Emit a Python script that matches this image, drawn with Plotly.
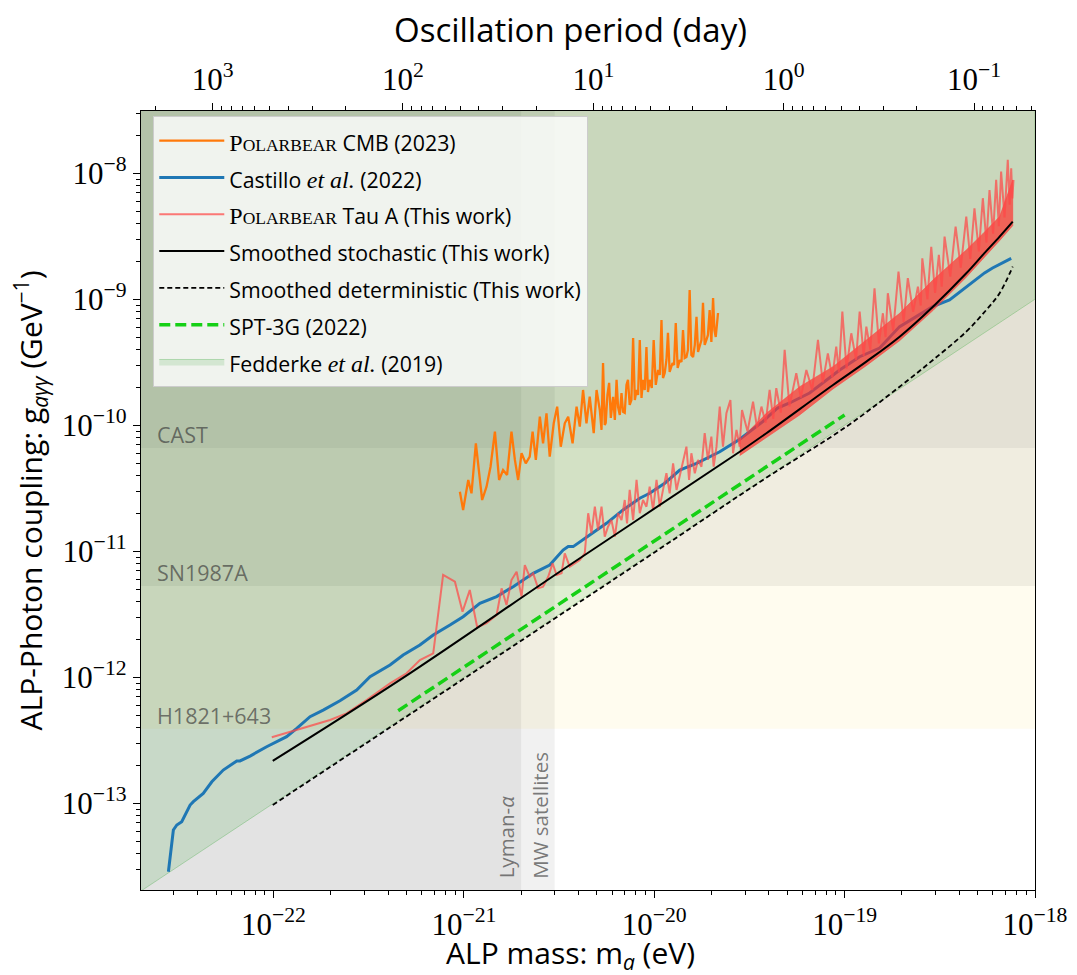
import numpy as np
import plotly.graph_objects as go

# ------------------------------------------------------------------
# Data (log10 values)
#   m in eV, g in GeV^-1
# ------------------------------------------------------------------
# Castillo et al. (2022)
castillo_log_m = [-22.552, -22.526, -22.508, -22.482, -22.438, -22.421, -22.369, -22.324, -22.264, -22.193,
                  -22.176, -22.123, -22.036, -22.001, -21.931, -21.878, -21.808, -21.739, -21.651, -21.563,
                  -21.493, -21.388, -21.319, -21.231, -21.161, -21.073, -21.004, -20.916, -20.828, -20.741,
                  -20.636, -20.549, -20.479, -20.452, -20.426, -20.339, -20.251, -20.164, -20.076, -20.024,
                  -19.945, -19.866, -19.778, -19.656, -19.551, -19.430, -19.352, -19.289, -19.184, -19.026,
                  -18.921, -18.816, -18.711, -18.624, -18.538, -18.449, -18.361, -18.265, -18.223, -18.125]
castillo_log_g = [-13.543, -13.212, -13.172, -13.146, -13.014, -12.987, -12.921, -12.829, -12.736, -12.664,
                  -12.664, -12.625, -12.551, -12.524, -12.471, -12.405, -12.313, -12.260, -12.186, -12.101,
                  -11.995, -11.902, -11.823, -11.744, -11.664, -11.585, -11.519, -11.413, -11.360, -11.281,
                  -11.175, -11.109, -10.990, -10.963, -10.963, -10.871, -10.778, -10.672, -10.579, -10.540,
                  -10.460, -10.355, -10.302, -10.210, -10.111, -9.971, -9.863, -9.823, -9.744, -9.561,
                  -9.456, -9.387, -9.217, -9.138, -9.059, -9.006, -8.900, -8.791, -8.752, -8.675]

# POLARBEAR CMB (2023)
pb_cmb_log_m = [-21.021, -21.004, -20.977, -20.960, -20.937, -20.916, -20.904, -20.881, -20.860, -20.837,
                -20.815, -20.794, -20.773, -20.750, -20.732, -20.715, -20.697, -20.675, -20.654, -20.639,
                -20.622, -20.601, -20.584, -20.566, -20.549, -20.528, -20.510, -20.491, -20.470, -20.452,
                -20.429, -20.408, -20.391, -20.374, -20.356, -20.339, -20.318, -20.303,
                -20.286, -20.277, -20.269, -20.260, -20.255, -20.246, -20.237, -20.228, -20.216, -20.207,
                -20.198, -20.190, -20.181, -20.172, -20.164, -20.155, -20.146, -20.138, -20.129, -20.120,
                -20.111, -20.102, -20.093, -20.085, -20.076, -20.067, -20.059, -20.050, -20.041, -20.033,
                -20.024, -20.013, -20.003, -19.992, -19.980, -19.971, -19.962, -19.954, -19.945, -19.936,
                -19.928, -19.919, -19.904, -19.896, -19.887, -19.877, -19.866, -19.857, -19.849, -19.840,
                -19.831, -19.823, -19.814, -19.805, -19.796, -19.787, -19.778, -19.770, -19.761, -19.752,
                -19.744, -19.735, -19.726, -19.718, -19.709, -19.700, -19.691, -19.684, -19.677, -19.670,
                -19.665]
pb_cmb_log_g = [-10.527, -10.672, -10.434, -10.540, -10.143, -10.460, -10.593, -10.487, -10.329, -10.051,
                -10.434, -10.355, -10.394, -10.051, -10.275, -10.434, -10.222, -10.302, -10.249, -10.051,
                -10.275, -9.932, -10.143, -9.905, -10.249, -9.984, -9.852, -10.170, -9.984, -9.932,
                -10.143, -9.852, -10.011, -9.720, -9.984, -9.773, -10.063, -9.720,
                -9.879, -10.037, -9.506, -9.998, -9.982, -9.760, -9.664, -9.942, -9.775, -9.958,
                -9.640, -9.855, -9.918, -9.744, -9.894, -9.902, -9.680, -9.640, -9.839, -9.799,
                -9.307, -9.799, -9.720, -9.759, -9.323, -9.783, -9.640, -9.720, -9.379, -9.736,
                -9.640, -9.704, -9.323, -9.680, -9.561, -9.601, -9.164, -9.625, -9.585, -9.482,
                -9.267, -9.577, -9.506, -9.522, -9.188, -9.545, -9.482, -9.498, -9.244, -9.466,
                -9.458, -9.402, -8.926, -9.442, -9.458, -9.363, -9.140, -9.418, -9.379, -9.323,
                -9.029, -9.363, -9.323, -9.283, -9.085, -9.339, -8.990, -9.244, -9.299, -9.148,
                -9.109]

# POLARBEAR Tau A (this work): sparse low-mass part
taua_log_m = [-22.009, -21.913, -21.791, -21.703, -21.616, -21.511, -21.388, -21.301, -21.231, -21.161,
              -21.109, -21.047, -21.007, -20.969, -20.930, -20.881, -20.828, -20.802, -20.776, -20.750,
              -20.723, -20.697, -20.680, -20.654, -20.636, -20.610, -20.584, -20.557, -20.534, -20.513,
              -20.487, -20.470, -20.444, -20.417, -20.391, -20.365, -20.347, -20.330, -20.312, -20.295,
              -20.277, -20.260, -20.243, -20.225, -20.207, -20.190, -20.172, -20.155, -20.143, -20.129,
              -20.111, -20.093, -20.076, -20.059, -20.041, -20.024, -20.006, -19.988, -19.971, -19.954,
              -19.936, -19.919, -19.901, -19.883, -19.866, -19.849, -19.831, -19.817, -19.805, -19.787,
              -19.770, -19.752, -19.735, -19.718, -19.700, -19.688, -19.673, -19.656, -19.639, -19.621,
              -19.600, -19.586, -19.568, -19.551]
taua_log_g = [-12.476, -12.432, -12.379, -12.339, -12.286, -12.180, -12.048, -11.968, -11.863, -11.810,
              -11.188, -11.241, -11.479, -11.307, -11.603, -11.571, -11.506, -11.294, -11.426, -11.228,
              -11.162, -11.360, -11.109, -11.202, -11.175, -11.294, -11.281, -11.202, -11.095, -11.188,
              -11.175, -11.016, -11.122, -11.095, -11.069, -11.016, -10.698, -10.857, -10.646, -10.831,
              -10.646, -10.884, -10.805, -10.752, -10.884, -10.698, -10.752, -10.593, -10.778, -10.513,
              -10.752, -10.434, -10.698, -10.593, -10.646, -10.487, -10.672, -10.434, -10.646, -10.513,
              -10.381, -10.540, -10.302, -10.513, -10.408, -10.302, -10.170, -10.434, -10.222, -10.381,
              -10.275, -10.329, -10.063, -10.275, -10.090, -10.329, -10.170, -9.852, -10.170, -9.905,
              -9.799, -10.222, -10.037, -10.170]

# POLARBEAR Tau A: dense high-mass part (band edges and spikes)
taua_band_log_m = [-19.551, -19.411, -19.236, -19.061, -18.886, -18.711, -18.536, -18.361, -18.274, -18.186, -18.117]
taua_band_upper_log_g = [-10.117, -9.905, -9.694, -9.535, -9.323, -9.111, -8.847, -8.609, -8.480, -8.344, -8.053]
taua_band_lower_log_g = [-10.241, -10.095, -9.918, -9.712, -9.527, -9.329, -9.090, -8.825, -8.680, -8.535, -8.416]

taua_spike_log_m = [-19.551, -19.539, -19.510, -19.481, -19.460, -19.437, -19.415, -19.394, -19.375, -19.359,
                    -19.335, -19.315, -19.290, -19.254, -19.230, -19.201, -19.170, -19.140, -19.115, -19.088,
                    -19.065, -19.044, -19.030, -19.012, -18.990, -18.965, -18.940, -18.921, -18.900, -18.886,
                    -18.865, -18.843, -18.820, -18.799, -18.785, -18.773, -18.745, -18.717, -18.690, -18.668,
                    -18.640, -18.615, -18.600, -18.592, -18.565, -18.545, -18.525, -18.505, -18.490, -18.475,
                    -18.445, -18.417, -18.390, -18.361, -18.340, -18.318, -18.295, -18.274, -18.255, -18.239,
                    -18.220, -18.204, -18.190, -18.178, -18.160, -18.143, -18.133, -18.125, -18.119, -18.113]
taua_spike_log_g = [-10.150, -9.879, -10.050, -9.813, -10.020, -9.852, -9.980, -9.720, -9.950, -9.706,
                    -9.900, -9.402, -9.850, -9.587, -9.780, -9.561, -9.720, -9.323, -9.660, -9.429,
                    -9.620, -9.376, -9.580, -9.098, -9.550, -9.270, -9.480, -9.098, -9.450, -9.217,
                    -9.400, -8.913, -9.350, -9.111, -9.300, -8.952, -9.250, -8.781, -9.180, -8.833,
                    -9.100, -8.900, -9.050, -8.675, -9.000, -8.583, -8.950, -8.648, -8.900, -8.503,
                    -8.820, -8.424, -8.750, -8.344, -8.680, -8.278, -8.620, -8.198, -8.550, -8.133,
                    -8.480, -8.053, -8.420, -7.987, -8.350, -7.894, -8.250, -7.960, -8.200, -8.053]

# Smoothed stochastic / deterministic (this work)
stoch_log_m = [-22.004, -21.336, -20.444, -19.551, -19.411, -19.061, -18.886, -18.711, -18.536, -18.361, -18.274, -18.186, -18.117]
stoch_log_g = [-12.664, -12.021, -11.109, -10.210, -10.063, -9.680, -9.495, -9.297, -9.059, -8.794, -8.648, -8.503, -8.384]
det_log_m = [-22.004, -20.059, -19.429, -18.991, -18.711, -18.536, -18.361, -18.256, -18.186, -18.117]
det_log_g = [-13.013, -11.069, -10.434, -10.011, -9.694, -9.482, -9.257, -9.085, -8.952, -8.741]

# SPT-3G (2022)
spt_log_m = [-21.345, -19.000]
spt_log_g = [-12.265, -9.918]

# Fedderke et al. (2019) lower boundary of excluded region
fedderke_log_m = [-22.8, -18.0]
fedderke_log_g = [-13.8, -9.0]

# Other bounds
cast_g = 6.6e-11
sn1987a_g = 5.3e-12
h1821_g = 3.9e-13
lyman_alpha_m = 2.0e-21
mw_satellites_m = 3.0e-21

# Tick labels
x_tick_vals = [1e-22, 1e-21, 1e-20, 1e-19, 1e-18]
x_tick_text = ["10<sup>\u221222</sup>", "10<sup>\u221221</sup>", "10<sup>\u221220</sup>",
               "10<sup>\u221219</sup>", "10<sup>\u221218</sup>"]
y_tick_vals = [1e-13, 1e-12, 1e-11, 1e-10, 1e-9, 1e-8]
y_tick_text = ["10<sup>\u221213</sup>", "10<sup>\u221212</sup>", "10<sup>\u221211</sup>",
               "10<sup>\u221210</sup>", "10<sup>\u22129</sup>", "10<sup>\u22128</sup>"]
top_tick_vals = [1e3, 1e2, 1e1, 1e0, 1e-1]
top_tick_text = ["10<sup>3</sup>", "10<sup>2</sup>", "10<sup>1</sup>", "10<sup>0</sup>", "10<sup>\u22121</sup>"]

# ------------------------------------------------------------------
H_EV_S = 4.135667696e-15
SEC_PER_DAY = 86400.0
LOG_T0 = np.log10(H_EV_S / SEC_PER_DAY)  # log10(period[day]) = LOG_T0 - log10(m)

X_RANGE = [-22.696, -18.0]
Y_RANGE = [-13.688, -7.506]
TOP_RANGE = [LOG_T0 - X_RANGE[0], LOG_T0 - X_RANGE[1]]


def lin(v):
    return [10.0 ** a for a in v]


def minor_vals(e0, e1):
    return [k * 10.0 ** e for e in range(e0, e1) for k in range(2, 10)]


SANS = "Open Sans"
SERIF = "Liberation Serif"
LEG_FS = 21.3


def leg(txt):
    return '<span style="font-size:%spx">%s</span>' % (LEG_FS, txt)


def smallcaps_pb():
    return ('<span style="font-family:%s;font-size:24px">P</span>'
            '<span style="font-family:%s;font-size:17.5px">OLARBEAR</span>' % (SERIF, SERIF))


def etal():
    return '<span style="font-family:%s;font-size:24px"><i>et al.</i></span>' % SERIF


TAU_RED = "rgba(255,70,70,0.72)"

xlo, xhi = 10 ** X_RANGE[0], 10 ** X_RANGE[1]
ylo, yhi = 10 ** Y_RANGE[0], 10 ** Y_RANGE[1]


def band(x0, x1, y0, y1, color):
    return go.Scatter(x=[x0, x1, x1, x0, x0], y=[y0, y0, y1, y1, y0], mode="lines", fill="toself",
                      fillcolor=color, line=dict(width=0), showlegend=False, hoverinfo="skip")


fig = go.Figure()

# Excluded bands (drawn first, underneath everything)
fig.add_trace(band(xlo, xhi, h1821_g, yhi, "rgba(255,228,110,0.11)"))
fig.add_trace(band(xlo, xhi, sn1987a_g, yhi, "rgba(0,0,0,0.058)"))
fig.add_trace(band(xlo, xhi, cast_g, yhi, "rgba(0,0,0,0.046)"))
fig.add_trace(band(xlo, lyman_alpha_m, ylo, yhi, "rgba(0,0,0,0.055)"))
fig.add_trace(band(xlo, mw_satellites_m, ylo, yhi, "rgba(0,0,0,0.055)"))

# Fedderke excluded region
fig.add_trace(go.Scatter(
    x=lin([fedderke_log_m[0], fedderke_log_m[1], fedderke_log_m[1], fedderke_log_m[0], fedderke_log_m[0]]),
    y=lin([fedderke_log_g[0], fedderke_log_g[1], Y_RANGE[1] + 1, Y_RANGE[1] + 1, fedderke_log_g[0]]),
    mode="lines", fill="toself", fillcolor="rgba(44,160,44,0.15)",
    line=dict(color="rgba(44,160,44,0.28)", width=1),
    name=leg("Fedderke " + etal() + " (2019)"), legendrank=7, hoverinfo="skip"))

# Castillo
fig.add_trace(go.Scatter(x=lin(castillo_log_m), y=lin(castillo_log_g), mode="lines",
                         line=dict(color="#1f77b4", width=3),
                         name=leg("Castillo " + etal() + " (2022)"), legendrank=2))

# Tau A dense band
fig.add_trace(go.Scatter(
    x=lin(taua_band_log_m + taua_band_log_m[::-1]),
    y=lin(taua_band_upper_log_g + taua_band_lower_log_g[::-1]),
    mode="lines", fill="toself", fillcolor="rgba(255,50,45,0.7)",
    line=dict(color="rgba(255,60,55,0.5)", width=1), showlegend=False, legendgroup="taua",
    hoverinfo="skip"))
fig.add_trace(go.Scatter(x=lin(taua_spike_log_m), y=lin(taua_spike_log_g), mode="lines",
                         line=dict(color=TAU_RED, width=2), showlegend=False, legendgroup="taua"))
fig.add_trace(go.Scatter(x=lin(taua_log_m), y=lin(taua_log_g), mode="lines",
                         line=dict(color=TAU_RED, width=2), legendgroup="taua",
                         name=leg(smallcaps_pb() + " Tau A (This work)"), legendrank=3))

# POLARBEAR CMB
fig.add_trace(go.Scatter(x=lin(pb_cmb_log_m), y=lin(pb_cmb_log_g), mode="lines",
                         line=dict(color="#ff790a", width=2.3),
                         name=leg(smallcaps_pb() + " CMB (2023)"), legendrank=1))

# SPT-3G
fig.add_trace(go.Scatter(x=lin(spt_log_m), y=lin(spt_log_g), mode="lines",
                         line=dict(color="#15d015", width=3.5, dash="11px,5px"),
                         name=leg("SPT-3G (2022)"), legendrank=6))

# Smoothed curves
fig.add_trace(go.Scatter(x=lin(stoch_log_m), y=lin(stoch_log_g), mode="lines",
                         line=dict(color="black", width=2, shape="spline"),
                         name=leg("Smoothed stochastic (This work)"), legendrank=4))
fig.add_trace(go.Scatter(x=lin(det_log_m), y=lin(det_log_g), mode="lines",
                         line=dict(color="black", width=1.8, dash="5px,3px", shape="spline"),
                         name=leg("Smoothed deterministic (This work)"), legendrank=5))

# invisible helper so the top (period) axis is drawn
fig.add_trace(go.Scatter(x=[10 ** TOP_RANGE[0], 10 ** TOP_RANGE[1]], y=[ylo, ylo],
                         xaxis="x2", mode="lines", line=dict(width=0), opacity=0,
                         showlegend=False, hoverinfo="skip"))

ann_font = dict(family=SANS, size=21.5, color="rgba(60,60,60,0.68)")
vert_font = dict(family=SANS, size=20.5, color="rgba(60,60,60,0.68)")
annotations = [
    dict(text="CAST", x=0.016, xref="paper", y=np.log10(cast_g), yref="y", xanchor="left", yanchor="bottom",
         showarrow=False, font=ann_font, yshift=-3),
    dict(text="SN1987A", x=0.016, xref="paper", y=np.log10(sn1987a_g), yref="y", xanchor="left", yanchor="bottom",
         showarrow=False, font=ann_font, yshift=-3),
    dict(text="H1821+643", x=0.016, xref="paper", y=np.log10(h1821_g), yref="y", xanchor="left", yanchor="bottom",
         showarrow=False, font=ann_font, yshift=-3),
    dict(text="Lyman-<i>\u03b1</i>", x=np.log10(lyman_alpha_m), xref="x", y=0.012, yref="paper",
         xanchor="right", yanchor="bottom", textangle=-90, showarrow=False, font=vert_font, xshift=1),
    dict(text="MW satellites", x=np.log10(mw_satellites_m), xref="x", y=0.012, yref="paper",
         xanchor="right", yanchor="bottom", textangle=-90, showarrow=False, font=vert_font, xshift=1),
    # axis titles (bottom and top) placed as in the reference
    dict(text="ALP mass: m<sub><i>a</i></sub> (eV)", x=0.48, xref="paper", y=-0.0822, yref="paper",
         xanchor="center", yanchor="middle", showarrow=False,
         font=dict(family=SANS, size=30, color="black")),
    dict(text="Oscillation period (day)", x=0.48, xref="paper", y=1.104, yref="paper",
         xanchor="center", yanchor="middle", showarrow=False,
         font=dict(family=SANS, size=33, color="black")),
]

tick_font = dict(family=SERIF, size=31, color="black")

axis_common = dict(showgrid=False, zeroline=False, showline=True, linecolor="black", linewidth=1.3,
                   ticks="outside", ticklen=7, tickwidth=1.3, tickcolor="black", tickfont=tick_font,
                   automargin=False)

fig.update_layout(
    width=1077, height=975,
    margin=dict(l=141, r=42, t=111, b=85),
    paper_bgcolor="white", plot_bgcolor="white",
    annotations=annotations,
    xaxis=dict(type="log", range=X_RANGE, tickmode="array", tickvals=x_tick_vals, ticktext=x_tick_text,
               minor=dict(ticks="outside", ticklen=4, tickwidth=1, tickcolor="black",
                          tickvals=minor_vals(-23, -18), showgrid=False),
               **axis_common),
    xaxis2=dict(type="log", range=TOP_RANGE, overlaying="x", side="top", anchor="y",
                tickmode="array", tickvals=top_tick_vals, ticktext=top_tick_text,
                minor=dict(ticks="outside", ticklen=4, tickwidth=1, tickcolor="black",
                           tickvals=minor_vals(-2, 4), showgrid=False),
                **axis_common),
    yaxis=dict(type="log", range=Y_RANGE, tickmode="array", tickvals=y_tick_vals, ticktext=y_tick_text,
               mirror=True,
               minor=dict(ticks="outside", ticklen=4, tickwidth=1, tickcolor="black",
                          tickvals=minor_vals(-14, -7), showgrid=False),
               title=dict(text="ALP-Photon coupling: g<sub><i>a\u03b3\u03b3</i></sub> (GeV<sup>\u22121</sup>)",
                          font=dict(family=SANS, size=30, color="black"), standoff=10),
               **axis_common),
    legend=dict(x=0.0134, y=0.9936, xanchor="left", yanchor="top", bgcolor="rgba(255,255,255,0.8)",
                bordercolor="#cccccc", borderwidth=1.3, font=dict(family=SANS, size=26, color="black"),
                itemwidth=65, tracegroupgap=0),
    showlegend=True,
)

# remove the browser's default 8px page margin so the 1077x975 figure fills the window exactly
fig.write_html("out.html", config={"displayModeBar": False},
               post_script="document.body.style.margin='0px';document.body.style.overflow='hidden';")
